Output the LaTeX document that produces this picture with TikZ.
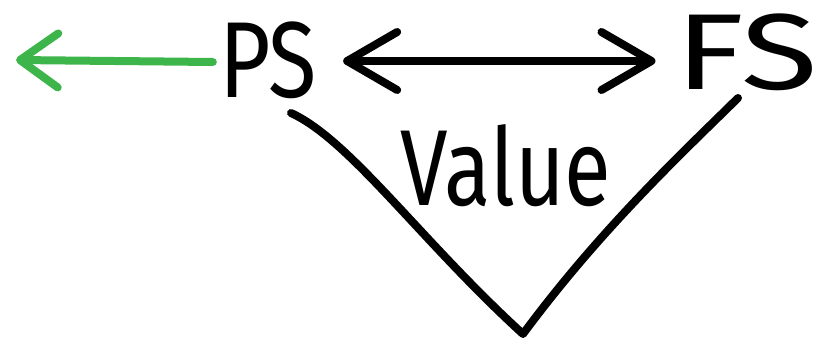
\documentclass[tikz,border=0pt]{standalone}
\usepackage{fontspec}
\setmainfont{Fira Sans}
\usetikzlibrary{arrows.meta}
\definecolor{arrowgreen}{HTML}{3DB54A}
\tikzset{
  hand/.style={font=\fontsize{108}{108}\selectfont, inner sep=0pt, text=black},
  stroke/.style={line width=8pt, line cap=round, line join=round},
  barb/.tip={Straight Barb[length=50pt, width=58pt, line width=8pt, round]},
  gbarb/.tip={Straight Barb[length=38pt, width=54pt, line width=8pt, round]}
}
\begin{document}
\begin{tikzpicture}[x=1pt, y=-1pt]
\useasboundingbox (0,0) rectangle (819,345);
\node[hand] (ps) at (268,60) {\scalebox{0.82}[1]{PS}};
\node[hand] (fs) at (747,52) {\scalebox{1.3}[1]{FS}};
\node[hand] (val) at (506,166) {\scalebox{0.79}[1]{Value}};
\coordinate (gtip) at (16,60);
\coordinate (vl) at (291,113);
\coordinate (vb) at (523,334);
\coordinate (vr) at (738,98);
\draw[stroke, arrowgreen, -{gbarb}] (ps.west) ++(-6,2) -- (gtip);
\draw[stroke, {barb}-{barb}] (ps.east) ++(26,1) coordinate (dl) -- ([xshift=-20pt]fs.west |- dl);
\draw[stroke] (vl) .. controls (350,140) and (420,240) .. (vb)
  .. controls (600,230) and (680,155) .. (vr);
\end{tikzpicture}
\end{document}
